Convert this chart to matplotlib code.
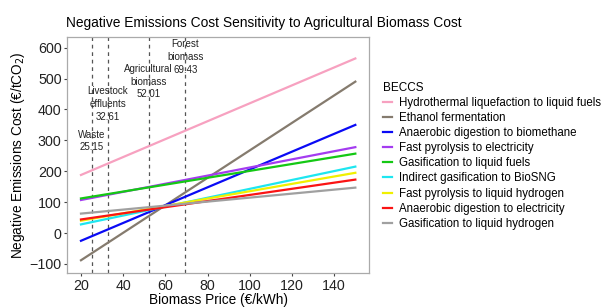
import numpy as np
import matplotlib.pyplot as plt

plt.rcParams['font.family'] = ['Liberation Sans', 'DejaVu Sans']

# dados: custo de emissões negativas em função do preço da biomassa
price = [20, 150]
series = [
    ('Hydrothermal liquefaction to liquid fuels', [188, 565], '#F7A1C0'),
    ('Ethanol fermentation', [-88, 490], '#857B6E'),
    ('Anaerobic digestion to biomethane', [-25, 350], '#0A0AF5'),
    ('Fast pyrolysis to electricity', [107, 278], '#A43CF0'),
    ('Gasification to liquid fuels', [112, 257], '#14C814'),
    ('Indirect gasification to BioSNG', [28, 215], '#1EE6F0'),
    ('Fast pyrolysis to liquid hydrogen', [40, 195], '#F0F000'),
    ('Anaerobic digestion to electricity', [44, 173], '#FA1414'),
    ('Gasification to liquid hydrogen', [63, 147], '#A0A0A0'),
]
# preços de referência por tipo de biomassa
ref_prices = [25.15, 32.61, 52.01, 69.43]
ref_labels = ['Waste\n25.15', 'Livestock\neffluents\n32.61',
              'Agricultural\nbiomass\n52.01', 'Forest\nbiomass\n69.43']
ref_label_y = [298, 418, 490, 570]

fig = plt.figure(figsize=(6.06, 3.07), dpi=100)
ax = fig.add_axes([0.111, 0.11, 0.498, 0.77])

for x in ref_prices:
    ax.axvline(x, color='#555555', ls=(0, (3, 3)), lw=0.9, zorder=1)
for x, lab, y in zip(ref_prices, ref_labels, ref_label_y):
    ax.text(x, y, lab, ha='center', va='center', fontsize=7.0,
            linespacing=1.35, color='#222222', zorder=3)

for name, vals, col in series:
    ax.plot(price, vals, color=col, lw=1.6, label=name, zorder=2)

ax.set_xlim(13.5, 156.5)
ax.set_ylim(-130, 635)
ax.set_xticks([20, 40, 60, 80, 100, 120, 140])
ax.set_yticks([-100, 0, 100, 200, 300, 400, 500, 600])
ax.tick_params(labelsize=10.3, color='#444444', length=2.5, width=0.8,
               labelcolor='#222222', pad=1.5)
for s in ax.spines.values():
    s.set_color('#AAAAAA')
    s.set_linewidth(0.9)

ax.set_title('Negative Emissions Cost Sensitivity to Agricultural Biomass Cost',
             fontsize=9.9, loc='left', x=-0.005, pad=7)
ax.set_xlabel('Biomass Price (€/kWh)', fontsize=9.8, labelpad=0)
ax.set_ylabel('Negative Emissions Cost (€/tCO$_2$)', fontsize=9.8, labelpad=2)

leg = ax.legend(title='BECCS', loc='upper left', bbox_to_anchor=(1.046, 0.81),
                frameon=False, fontsize=8.3, title_fontsize=8.5,
                handlelength=0.8, handletextpad=0.6, labelspacing=0.27,
                borderaxespad=0, borderpad=0)
leg._legend_box.align = 'left'

fig.savefig('out.png', dpi=100)
